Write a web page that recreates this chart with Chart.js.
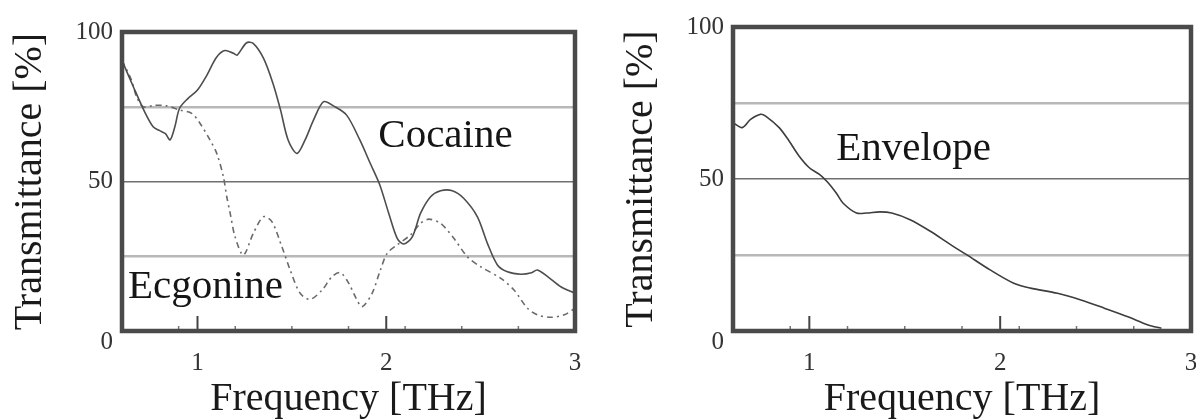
<!DOCTYPE html>
<html lang="en">
<head>
    <meta charset="UTF-8">
    <title>Transmittance spectra</title>
    <style>
        body { margin: 0; background: #fff; }
        .panel { position: absolute; top: 0; }
    </style>
    <script src="https://cdn.jsdelivr.net/npm/chart.js"></script>
</head>
<body>
    <canvas id="leftChart" class="panel" width="600" height="419" style="left:0"></canvas>
    <canvas id="rightChart" class="panel" width="596" height="419" style="left:600px"></canvas>

    <script>
        // Frequency [THz] / transmittance [%]
        const cocaineFreq = [0.60, 0.66, 0.72, 0.765, 0.80, 0.83, 0.855, 0.88, 0.905, 0.95, 1.00, 1.05, 1.10, 1.145, 1.19, 1.21, 1.26, 1.295, 1.35, 1.40, 1.44, 1.48, 1.527, 1.57, 1.615, 1.668, 1.72, 1.79, 1.86, 1.915, 1.965, 2.013, 2.058, 2.093, 2.138, 2.182, 2.235, 2.288, 2.35, 2.41, 2.483, 2.536, 2.589, 2.642, 2.713, 2.77, 2.80, 2.855, 2.925, 3.00];
        const cocaineTrans = [90.5, 81.7, 73.3, 68.3, 67.0, 66.0, 63.9, 68.3, 74.5, 77.8, 80.6, 85.6, 91.5, 93.8, 92.9, 92.3, 96.4, 96.2, 91.2, 82.8, 73.9, 63.9, 59.4, 63.9, 70.6, 76.7, 75.3, 72.2, 63.9, 56.1, 49.0, 39.4, 31.0, 29.1, 31.5, 39.4, 44.9, 46.9, 46.9, 44.4, 38.2, 29.3, 22.1, 19.8, 19.0, 19.5, 20.4, 18.2, 14.8, 12.6];

        const ecgonineFreq = [0.60, 0.65, 0.677, 0.712, 0.774, 0.836, 0.907, 0.969, 1.013, 1.066, 1.102, 1.137, 1.155, 1.173, 1.199, 1.243, 1.296, 1.349, 1.394, 1.447, 1.491, 1.544, 1.597, 1.66, 1.713, 1.757, 1.801, 1.84, 1.872, 1.925, 1.969, 2.005, 2.058, 2.128, 2.182, 2.226, 2.288, 2.358, 2.43, 2.50, 2.607, 2.677, 2.748, 2.801, 2.872, 2.943, 3.00];
        const ecgonineTrans = [90.5, 83.9, 78.4, 75.0, 75.5, 75.3, 73.9, 72.8, 69.5, 63.9, 59.4, 51.6, 44.9, 39.4, 31.5, 25.4, 32.7, 38.2, 36.6, 28.2, 20.4, 12.6, 10.6, 13.7, 18.2, 19.5, 16.0, 11.0, 8.1, 12.6, 20.4, 26.0, 28.8, 32.1, 36.0, 37.4, 36.0, 31.0, 24.8, 21.5, 17.6, 13.7, 7.6, 5.4, 4.6, 5.4, 7.6];

        const envelopeFreq = [0.60, 0.648, 0.692, 0.745, 0.771, 0.842, 0.894, 0.947, 1.00, 1.053, 1.095, 1.141, 1.176, 1.247, 1.30, 1.37, 1.432, 1.528, 1.634, 1.74, 1.824, 1.947, 2.071, 2.159, 2.30, 2.423, 2.546, 2.669, 2.775, 2.845];
        const envelopeTrans = [68.5, 66.9, 69.6, 71.3, 70.7, 66.9, 62.5, 57.5, 53.7, 51.5, 49.0, 45.4, 42.1, 38.8, 38.8, 39.2, 38.8, 36.6, 32.8, 28.4, 25.1, 20.1, 15.7, 14.1, 12.4, 10.2, 7.5, 4.7, 2.0, 0.9];

        // axis ticks
        const freqTicks = [1, 2, 3];
        const freqMinorTicks = [0.9, 1.2, 1.5, 1.8, 2.1, 2.4, 2.7];
        const transTicks = [0, 25, 50, 75, 100];
        const transLabels = ['0', '', '50', '', '100'];

        // sample names written inside the plots (frequency, transmittance)
        const leftNotes = [
            { text: 'Cocaine', x: 1.958, y: 61.6 },
            { text: 'Ecgonine', x: 0.632, y: 10.9 }
        ];
        const rightNotes = [
            { text: 'Envelope', x: 1.141, y: 56.4 }
        ];

        const serif = '"Liberation Serif", "Times New Roman", serif';

        function toPoints(xs, ys) {
            return xs.map((x, i) => ({ x: x, y: ys[i] }));
        }

        // box around the plot area plus the small inward tick marks
        const framePlugin = {
            id: 'frame',
            afterDatasetsDraw(chart) {
                const { ctx, chartArea: a, scales } = chart;
                ctx.save();
                ctx.strokeStyle = '#777';
                ctx.lineWidth = 1.5;
                freqMinorTicks.forEach(v => {
                    const px = scales.x.getPixelForValue(v);
                    ctx.beginPath();
                    ctx.moveTo(px, a.bottom);
                    ctx.lineTo(px, a.bottom - 5);
                    ctx.stroke();
                });
                ctx.strokeStyle = '#444';
                ctx.lineWidth = 2;
                freqTicks.forEach(v => {
                    const px = scales.x.getPixelForValue(v);
                    ctx.beginPath();
                    ctx.moveTo(px, a.bottom);
                    ctx.lineTo(px, a.bottom - 15);
                    ctx.stroke();
                });
                ctx.strokeStyle = '#4a4a4a';
                ctx.lineWidth = 4.5;
                ctx.strokeRect(a.left, a.top, a.right - a.left, a.bottom - a.top);

                ctx.fillStyle = '#151515';
                ctx.font = '41px ' + serif;
                ctx.textBaseline = 'alphabetic';
                ctx.textAlign = 'left';
                (chart.options.plugins.frame.notes || []).forEach(n => {
                    ctx.fillText(n.text, scales.x.getPixelForValue(n.x), scales.y.getPixelForValue(n.y));
                });
                ctx.restore();
            }
        };

        function makeChart(id, datasets, notes, pad) {
            return new Chart(document.getElementById(id), {
                type: 'line',
                data: { datasets: datasets },
                options: {
                    responsive: false,
                    animation: false,
                    layout: { padding: pad },
                    elements: { point: { radius: 0 }, line: { tension: 0.3 } },
                    plugins: {
                        legend: { display: false },
                        tooltip: { enabled: false },
                        frame: { notes: notes }
                    },
                    scales: {
                        x: {
                            type: 'linear',
                            min: 0.6,
                            max: 3,
                            afterBuildTicks: s => { s.ticks = freqTicks.map(v => ({ value: v })); },
                            afterFit: s => { s.height = 88; s.paddingLeft = 0; s.paddingRight = 0; },
                            grid: { display: false },
                            border: { display: false },
                            ticks: {
                                padding: 9,
                                color: '#333',
                                font: { family: serif, size: 25 },
                                callback: v => String(v)
                            },
                            title: {
                                display: true,
                                text: 'Frequency [THz]',
                                color: '#1a1a1a',
                                font: { family: serif, size: 40, lineHeight: 1 },
                                padding: { top: 0, bottom: 0 }
                            }
                        },
                        y: {
                            min: 0,
                            max: 100,
                            afterBuildTicks: s => { s.ticks = transTicks.map(v => ({ value: v })); },
                            afterFit: s => { s.width = 122; s.paddingTop = 0; s.paddingBottom = 0; },
                            border: { display: false },
                            grid: {
                                drawTicks: false,
                                color: c => {
                                    const v = c.tick.value;
                                    if (v === 50) return '#707070';
                                    if (v === 25 || v === 75) return '#b8b8b8';
                                    return 'rgba(0,0,0,0)';
                                },
                                lineWidth: c => (c.tick.value === 50 ? 1.5 : 2.5)
                            },
                            ticks: {
                                padding: 9,
                                color: '#333',
                                // the "0" sits a little below the axis corner
                                font: c => ({
                                    family: serif,
                                    size: 25,
                                    lineHeight: c.tick && c.tick.value === 0 ? '22px' : 1.2
                                }),
                                callback: (v, i) => {
                                    const label = transLabels[transTicks.indexOf(v)];
                                    return v === 0 ? ['', label] : label;
                                }
                            },
                            title: {
                                display: true,
                                text: 'Transmittance [%]',
                                color: '#1a1a1a',
                                font: { family: serif, size: 40, lineHeight: 1 },
                                padding: { top: 10, bottom: 0 }
                            }
                        }
                    }
                },
                plugins: [framePlugin]
            });
        }

        makeChart('leftChart', [
            {
                label: 'Cocaine',
                data: toPoints(cocaineFreq, cocaineTrans),
                borderColor: '#4d4d4d',
                borderWidth: 1.6
            },
            {
                label: 'Ecgonine',
                data: toPoints(ecgonineFreq, ecgonineTrans),
                borderColor: '#6a6a6a',
                borderWidth: 1.6,
                borderDash: [6, 4, 2, 4]
            }
        ], leftNotes, { left: 0, right: 25, top: 32, bottom: 0 });

        makeChart('rightChart', [
            {
                label: 'Envelope',
                data: toPoints(envelopeFreq, envelopeTrans),
                borderColor: '#3d3d3d',
                borderWidth: 1.6
            }
        ], rightNotes, { left: 11, right: 5, top: 27, bottom: 0 });
    </script>
</body>
</html>
